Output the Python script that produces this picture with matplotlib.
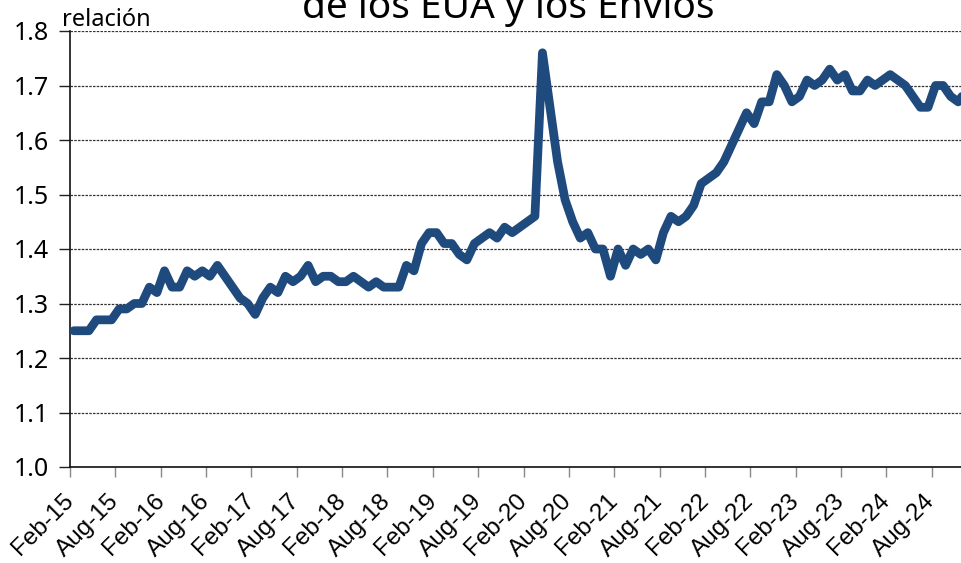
import matplotlib
matplotlib.use("Agg")
import matplotlib.pyplot as plt
import numpy as np

# Monthly ratio, Feb-2015 .. Dec-2024
start_label = "Feb-15"
values = [
    # 2015 (Feb-Dec)
    1.25, 1.25, 1.25, 1.27, 1.27, 1.27, 1.29, 1.29, 1.30, 1.30, 1.33,
    # 2016
    1.32, 1.36, 1.33, 1.33, 1.36, 1.35, 1.36, 1.35, 1.37, 1.35, 1.33, 1.31,
    # 2017
    1.30, 1.28, 1.31, 1.33, 1.32, 1.35, 1.34, 1.35, 1.37, 1.34, 1.35, 1.35,
    # 2018
    1.34, 1.34, 1.35, 1.34, 1.33, 1.34, 1.33, 1.33, 1.33, 1.37, 1.36, 1.41,
    # 2019
    1.43, 1.43, 1.41, 1.41, 1.39, 1.38, 1.41, 1.42, 1.43, 1.42, 1.44, 1.43,
    # 2020
    1.44, 1.45, 1.46, 1.76, 1.66, 1.56, 1.49, 1.45, 1.42, 1.43, 1.40, 1.40,
    # 2021
    1.35, 1.40, 1.37, 1.40, 1.39, 1.40, 1.38, 1.43, 1.46, 1.45, 1.46, 1.48,
    # 2022
    1.52, 1.53, 1.54, 1.56, 1.59, 1.62, 1.65, 1.63, 1.67, 1.67, 1.72, 1.70,
    # 2023
    1.67, 1.68, 1.71, 1.70, 1.71, 1.73, 1.71, 1.72, 1.69, 1.69, 1.71, 1.70,
    # 2024
    1.71, 1.72, 1.71, 1.70, 1.68, 1.66, 1.66, 1.70, 1.70, 1.68, 1.67, 1.69,
]

tick_labels = ["Feb-15", "Aug-15", "Feb-16", "Aug-16", "Feb-17", "Aug-17",
               "Feb-18", "Aug-18", "Feb-19", "Aug-19", "Feb-20", "Aug-20",
               "Feb-21", "Aug-21", "Feb-22", "Aug-22", "Feb-23", "Aug-23",
               "Feb-24", "Aug-24"]
y_ticks = [1.0, 1.1, 1.2, 1.3, 1.4, 1.5, 1.6, 1.7, 1.8]

title_text = "de los EUA y los Envíos"
unit_label = "relación"

line_color = "#1F4A7D"

W, H = 962, 563
fig = plt.figure(figsize=(W / 100, H / 100), dpi=100)
left_px, right_px, top_px, bottom_px = 70, 962, 31, 467
ax = fig.add_axes([left_px / W, 1 - bottom_px / H,
                   (right_px - left_px) / W, (bottom_px - top_px) / H])

x = np.arange(len(values)) + 0.5
ax.plot(x, values, color=line_color, lw=6.3, solid_joinstyle="round",
        solid_capstyle="round", zorder=3, clip_on=True)

ax.set_xlim(0, 118.0)
ax.set_ylim(1.0, 1.8)

ax.set_yticks(y_ticks)
ax.set_yticklabels([f"{v:.1f}" for v in y_ticks], fontsize=18,
                   family=["Noto Sans", "DejaVu Sans"])
ax.yaxis.grid(True, linestyle=(0, (2, 1)), color="#333333", lw=0.9)
ax.set_axisbelow(True)

xt = np.arange(0, 6 * len(tick_labels), 6)
ax.set_xticks(xt)
ax.set_xticklabels(tick_labels, rotation=45, ha="right", va="center",
                   rotation_mode="anchor", fontsize=17.5,
                   family=["Liberation Sans", "DejaVu Sans"])

ax.tick_params(axis="y", direction="out", length=8, width=1, color="#222222", pad=7)
ax.tick_params(axis="x", direction="out", length=7, width=1, color="#888888", pad=15)

for s in ["right", "top"]:
    ax.spines[s].set_visible(False)
ax.spines["left"].set_color("#111111")
ax.spines["bottom"].set_color("#111111")
ax.spines["left"].set_linewidth(1.2)
ax.spines["bottom"].set_linewidth(1.2)

fig.text(62 / W, 1 - 26 / H, unit_label, fontsize=17, ha="left", va="baseline",
         family=["Noto Sans", "DejaVu Sans"])
fig.text(508 / W, 1 - 18 / H, title_text, fontsize=28, ha="center", va="baseline",
         family=["Noto Sans", "DejaVu Sans"])

fig.savefig("out.png", dpi=100)
